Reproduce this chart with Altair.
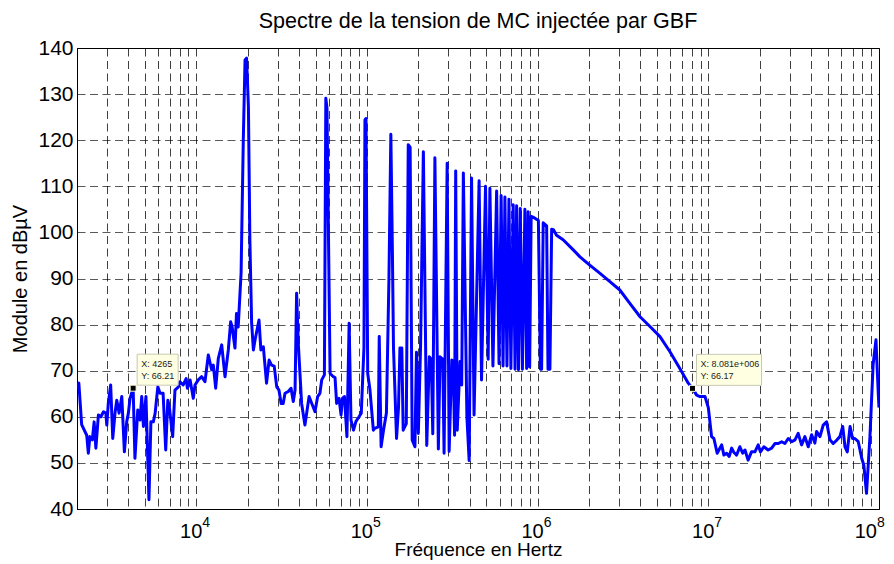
import altair as alt
import pandas as pd

FONT = "Liberation Sans"

# ---- spectrum trace (frequency in Hz, level in dBµV) ----
freq = [
    2000, 2050, 2130, 2280, 2330, 2380, 2460, 2520, 2580, 2670, 2760, 2860, 2950, 2990,
    3050, 3150, 3240, 3340, 3420, 3530, 3660, 3790, 3910, 4000, 4090, 4265, 4370, 4540,
    4680, 4790, 4900, 5070, 5280, 5420, 5600, 5740, 5950, 6130, 6390, 6620, 6810,
    6950, 7270, 7500, 7860, 8020, 8380, 8720, 8870, 9200, 9600, 9830,
    10270, 10750, 11240, 11760, 12300, 12580, 12990, 13460, 14090, 14730, 15400, 15900,
    16200, 16850, 17200, 17600, 18300, 18850, 19300, 19700, 20200, 20600, 21100, 21600,
    22100, 23300, 23900, 24700, 25800, 26700, 27600, 28600, 29600, 30500, 31400, 32300,
    33100, 34600, 35900, 37000, 37900, 38700, 39600, 41400, 43300, 45800, 47500, 49600,
    51400, 53000, 54300, 56300, 57400, 58300, 60800, 63500, 65000, 66400, 68600, 70500,
    71800, 73800, 76300, 78600, 80600, 83400, 86200, 89800, 92600, 96000, 97300, 98700,
    101000, 104000, 109000, 111000, 116500, 118000, 121000, 125000, 130000, 134500,
    138000, 141000, 143000, 149000, 153000, 156000, 160000, 163000, 170000, 174500,
    179000, 184000, 191000, 195000, 200000, 206000, 214000, 224000, 232000, 238000,
    243000, 250000, 262000, 268000, 278000, 283000, 295000, 303000, 314000, 320000,
    326000, 331000, 338000, 351000, 359000, 367000, 385000, 397000, 410000, 424000,
    454000, 469000, 495000, 513000, 525000, 547000, 575000, 594000, 611000, 627000,
    643000, 661000, 679000, 697000, 719000, 737000, 753000, 772000, 791000, 814000,
    842000, 862000, 880000, 898000, 916000, 953000, 990000, 1010000, 1038000, 1055000,
    1078000, 1129000, 1150000, 1180000, 1208000, 1238000, 1290000, 1410000, 1617000,
    1770000, 2020000, 2320000, 2650000, 3030000, 3470000, 3980000, 4660000, 5210000,
    5960000, 6810000, 7630000, 8081000, 8540000, 8930000, 9560000,
    10000000, 10450000, 10780000, 11270000, 11620000, 11970000, 12340000, 12800000,
    13260000, 13700000, 14100000, 14650000, 15300000, 15900000, 16400000, 17100000,
    17900000, 18750000, 19600000, 20200000, 21150000, 22400000, 23500000, 24550000,
    25700000, 26900000, 28100000, 29400000, 30800000, 32200000, 33600000, 35200000,
    36800000, 38500000, 40300000, 42100000, 43100000, 45100000, 47100000, 49300000,
    51600000, 53900000, 56400000, 59000000, 61300000, 63200000, 65200000, 67700000,
    70000000, 72200000, 75600000, 79200000, 81500000, 84500000, 88500000, 92400000,
    96000000, 99000000, 100000000,
]
level = [
    66.0, 67.3, 58.3, 56.0, 52.1, 55.7, 55.0, 58.9, 53.2, 60.4, 60.0, 61.1, 60.8, 58.2,
    62.9, 66.9, 55.3, 60.8, 63.6, 60.8, 64.4, 52.4, 58.9, 60.8, 64.0, 66.21, 51.0, 61.5,
    59.3, 64.4, 57.9, 64.4, 42.0, 58.9, 58.9, 60.8, 66.5, 65.1, 65.1, 52.8, 63.6,
    62.2, 55.7, 65.8, 66.5, 67.6, 66.9, 68.3, 66.2, 68.0, 64.0, 66.9,
    68.0, 68.7, 67.6, 73.4, 70.2, 71.2, 66.2, 72.7, 75.6, 68.7, 74.5, 80.6,
    79.6, 74.9, 82.4, 79.5, 91.2, 120.0, 137.4, 137.8, 127.3, 98.4, 80.3, 74.5,
    76.7, 81.0, 74.5, 75.2, 67.3, 72.3, 71.2, 71.0, 66.5, 65.8, 62.9, 62.9,
    65.1, 65.5, 66.2, 63.3, 65.8, 86.8, 75.9, 62.9, 58.2, 64.4, 62.9, 61.1,
    64.4, 65.1, 68.0, 69.1, 129.1, 127.0, 69.4, 68.7, 68.5, 62.9, 64.0, 60.4,
    64.0, 64.4, 55.7, 80.3, 59.3, 57.1, 59.0, 60.0, 60.8, 75.0, 124.4, 124.7,
    69.4, 66.0, 57.1, 57.5, 57.8, 77.4, 53.5, 57.1, 60.8, 90.0,
    121.3, 95.0, 75.0, 55.3, 62.0, 74.9, 74.9, 57.1, 58.5, 119.0,
    118.5, 55.0, 53.5, 74.0, 56.4, 75.0, 117.5, 53.8, 73.0, 72.5,
    56.3, 116.2, 53.0, 73.0, 72.5, 52.1, 115.0, 52.5, 72.3, 72.0,
    56.0, 113.3, 57.1, 72.0, 66.9, 112.9, 60.0, 50.5, 111.8, 60.4,
    111.2, 68.0, 110.0, 72.5, 109.6, 71.0, 109.0, 71.5, 108.0, 71.0,
    107.7, 71.0, 107.2, 70.5, 106.0, 70.3, 105.8, 70.2, 105.2, 70.3,
    105.0, 70.5, 104.5, 70.8, 103.5, 103.2, 102.8, 102.6, 70.3, 70.3,
    102.1, 101.4, 70.3, 70.3, 100.7, 100.6, 99.4, 98.4, 96.2,
    94.7, 92.9, 91.1, 89.3, 87.5, 84.6, 81.7, 79.2, 77.4,
    74.1, 70.5, 67.3, 66.17, 64.7, 64.4, 64.4,
    62.0, 55.7, 55.3, 52.1, 53.0, 53.9, 51.7, 52.1,
    51.4, 53.2, 52.3, 51.7, 53.5, 52.1, 52.8, 50.6,
    52.4, 52.4, 53.9, 52.4, 53.5, 52.8, 53.2, 54.2,
    54.2, 54.6, 54.2, 55.3, 54.6, 55.0, 56.4, 53.9,
    55.7, 53.5, 56.1, 54.3, 56.8, 55.7, 58.2, 58.9,
    55.0, 54.2, 54.9, 55.7, 57.9, 53.5, 52.4, 57.9,
    55.3, 55.3, 54.6, 51.0, 49.5, 43.4, 55.7, 71.4,
    76.7, 65.1, 62.0,
]

# ---- data tips ----
tip_freq = [4265, 8081000]
tip_level = [66.21, 66.17]
tip_xtext = ["X: 4265", "X: 8.081e+006"]
tip_ytext = ["Y: 66.21", "Y: 66.17"]

# ---- axes ----
y_ticks = [40, 50, 60, 70, 80, 90, 100, 110, 120, 130, 140]
x_grid = [2000, 3000, 4000, 5000, 6000, 7000, 8000, 9000,
          1e4, 2e4, 3e4, 4e4, 5e4, 6e4, 7e4, 8e4, 9e4,
          1e5, 2e5, 3e5, 4e5, 5e5, 6e5, 7e5, 8e5, 9e5,
          1e6, 2e6, 3e6, 4e6, 5e6, 6e6, 7e6, 8e6, 9e6,
          1e7, 2e7, 3e7, 4e7, 5e7, 6e7, 7e7, 8e7, 9e7, 1e8]
decades = [1e4, 1e5, 1e6, 1e7]
dec_base = ["10", "10", "10", "10"]
dec_exp = ["4", "5", "6", "7"]
last_decade = [1e8]
last_base = ["10"]
last_exp = ["8"]

df = pd.DataFrame({"f": freq, "v": level})
df_tip = pd.DataFrame({"f": tip_freq, "v": tip_level, "tx": tip_xtext, "ty": tip_ytext})
df_dec = pd.DataFrame({"f": decades, "v": [40] * len(decades), "b": dec_base, "e": dec_exp})
df_last = pd.DataFrame({"f": last_decade, "v": [40], "b": last_base, "e": last_exp})

xscale = alt.Scale(type="log", domain=[2000, 1e8], nice=False)
yscale = alt.Scale(domain=[40, 140], nice=False, zero=False)
DASH = [8, 4.5]

x_axis = alt.Axis(values=x_grid, labels=False, ticks=False, grid=True, gridDash=DASH,
                  gridColor="#000000", gridOpacity=0.75, gridWidth=1,
                  domainColor="black", domainWidth=1,
                  title="Fréquence en Hertz", titleFont=FONT, titleFontSize=19,
                  titleFontWeight="normal", titleColor="black",
                  titleX=401, titleY=46, titleAlign="center", titleBaseline="alphabetic")
y_axis = alt.Axis(values=y_ticks, ticks=False, grid=True, gridDash=DASH,
                  gridColor="#000000", gridOpacity=0.65, gridWidth=1,
                  domainColor="black", domainWidth=1,
                  labelFont=FONT, labelFontSize=21, labelColor="black", labelPadding=4,
                  title="Module en dBµV", titleFont=FONT, titleFontSize=20,
                  titleFontWeight="normal", titleColor="black", titleAngle=270,
                  titleX=-57, titleY=230.5, titleAlign="center", titleBaseline="middle")

X = alt.X("f:Q", scale=xscale, axis=x_axis)
Y = alt.Y("v:Q", scale=yscale, axis=y_axis)

line = alt.Chart(df).mark_line(color="#0000FF", strokeWidth=3, strokeJoin="round",
                               clip=True).encode(x=X, y=Y)

def tip_box(i, w):
    d = df_tip.iloc[[i]]
    return alt.Chart(d).mark_rect(fill="#FFFFE1", stroke="#C8C8B4", strokeWidth=1,
                                  xOffset=4, x2Offset=w, yOffset=-34, y2Offset=-3).encode(
        x=X, x2="f:Q", y=Y, y2="v:Q")

box1 = tip_box(0, 45)
box2 = tip_box(1, 69)

marker = alt.Chart(df_tip).mark_square(size=36, fill="black", stroke="#FFFFE1",
                                       strokeWidth=1, opacity=1).encode(x=X, y=Y)
tip_t1 = alt.Chart(df_tip).mark_text(font=FONT, fontSize=9, color="#222222", align="left",
                                     baseline="alphabetic", dx=8, dy=-21).encode(
    x=X, y=Y, text="tx:N")
tip_t2 = alt.Chart(df_tip).mark_text(font=FONT, fontSize=9, color="#222222", align="left",
                                     baseline="alphabetic", dx=8, dy=-9).encode(
    x=X, y=Y, text="ty:N")

def dec_labels(d, shift):
    base = alt.Chart(d).mark_text(font=FONT, fontSize=20, color="black", align="right",
                                  baseline="alphabetic", dx=6 + shift, dy=28.5).encode(
        x=X, y=Y, text="b:N")
    exp = alt.Chart(d).mark_text(font=FONT, fontSize=14, color="black", align="left",
                                 baseline="alphabetic", dx=6 + shift, dy=18).encode(
        x=X, y=Y, text="e:N")
    return [base, exp]

labels = dec_labels(df_dec, 0) + dec_labels(df_last, -8)

chart = alt.layer(line, box1, box2, marker, tip_t1, tip_t2, *labels).properties(
    width=802, height=461,
    title=alt.TitleParams("Spectre de la tension de MC injectée par GBF", font=FONT,
                          fontSize=21.5, fontWeight="normal", color="black", anchor="middle",
                          frame="group", baseline="alphabetic", offset=-12),
    autosize=alt.AutoSizeParams(type="none"),
    padding={"left": 69, "top": 40, "right": 7, "bottom": 52},
    background="white",
).configure_view(stroke="black", strokeWidth=1)

chart.save("out.html", embed_options={"renderer": "svg", "actions": False})
